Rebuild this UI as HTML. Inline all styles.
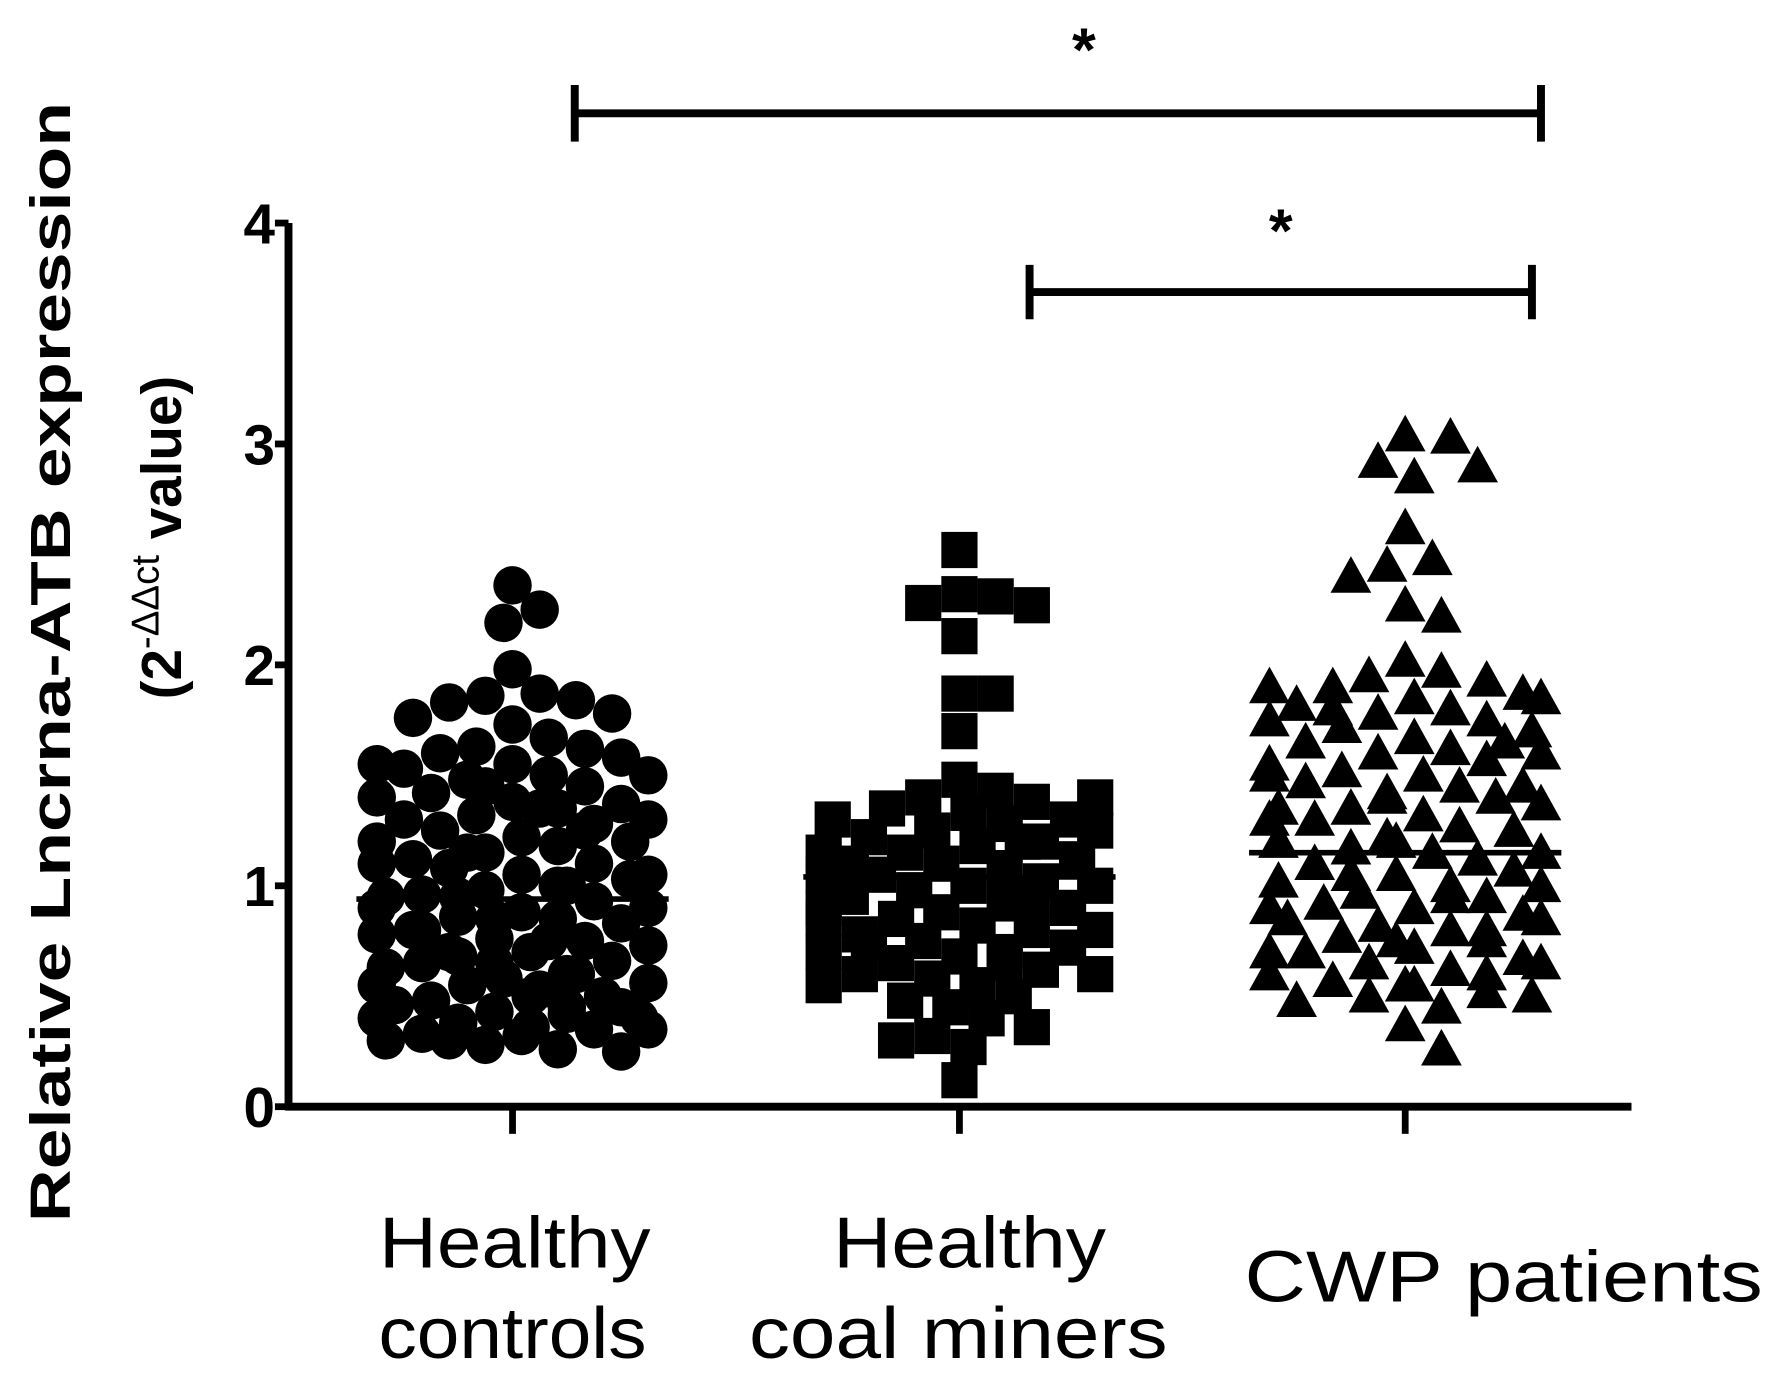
<!DOCTYPE html>
<html><head><meta charset="utf-8"><style>html,body{margin:0;padding:0;background:#fff}svg{display:block}</style></head>
<body>
<svg id="chart" width="1765" height="1375" viewBox="0 0 1560 1215" xmlns="http://www.w3.org/2000/svg" font-family="Liberation Sans, Arial, sans-serif">
<g id="axes"></g>
<g id="marks"></g>
</svg>
<script>
const categories = ["Healthy controls","Healthy coal miners","CWP patients"];
const yTicks = [0,1,2,3,4];
const means = [0.94,1.04,1.15];
const controls = [2.36,2.25,2.19,1.98,1.87,1.86,1.84,1.83,1.78,1.76,1.73,1.67,1.63,1.62,1.6,1.58,1.55,1.53,1.5,1.5,1.48,1.45,1.42,1.4,1.38,1.37,1.35,1.32,1.3,1.28,1.25,1.22,1.2,1.18,1.15,1.12,1.1,1.1,1.08,1.05,1.03,1.0,0.98,0.96,0.95,0.93,0.9,0.88,0.86,0.85,0.83,0.8,0.78,0.76,0.75,0.73,0.7,0.68,0.66,0.65,0.63,0.6,0.58,0.56,0.55,0.53,0.5,0.48,0.46,0.45,0.43,0.4,0.38,0.36,0.35,0.33,0.3,0.28,0.26,0.25,1.45,1.3,1.2,1.05,0.95,0.85,0.75,0.65,0.55,0.45,0.4,0.35,1.55,1.0,0.7,0.5,0.32,1.35,1.15,0.9,0.6,0.42,0.3,0.8,1.25];
const miners = [2.52,2.32,2.31,2.28,2.27,2.13,1.87,1.87,1.7,1.48,1.43,1.4,1.38,1.35,1.33,1.3,1.28,1.25,1.22,1.2,1.18,1.15,1.12,1.1,1.08,1.05,1.02,1.0,0.98,0.95,0.92,0.9,0.88,0.85,0.82,0.8,0.78,0.75,0.72,0.7,0.68,0.65,0.62,0.6,0.58,0.55,0.5,0.48,0.45,0.4,0.36,0.32,0.3,0.27,0.12,1.3,1.15,1.0,0.9,0.8,0.7,0.6,1.25,1.1,0.95,0.85,0.75,0.65,0.55,1.4,1.2,1.05];
const cwp = [3.04,3.03,2.92,2.9,2.85,2.62,2.48,2.45,2.4,2.27,2.22,2.02,1.97,1.95,1.93,1.9,1.87,1.85,1.82,1.8,1.78,1.75,1.72,1.7,1.67,1.65,1.62,1.6,1.57,1.55,1.52,1.5,1.47,1.45,1.42,1.4,1.37,1.35,1.32,1.3,1.27,1.25,1.22,1.2,1.17,1.15,1.12,1.1,1.07,1.05,1.02,1.0,0.97,0.95,0.92,0.9,0.87,0.85,0.82,0.8,0.77,0.75,0.72,0.7,0.67,0.65,0.62,0.6,0.57,0.55,0.52,0.5,0.48,0.45,0.37,0.26,1.9,1.6,1.3,1.0,0.7,0.5,1.75,1.45,1.15,0.85,0.6,1.85,1.5,1.2,0.9,0.65,1.65,1.35,1.05,0.75,0.55,1.8,1.4,0.95,0.8];
const series = [controls, miners, cwp];

const NS="http://www.w3.org/2000/svg";
const axes=document.getElementById('axes'), marks=document.getElementById('marks');
const X0=255, X1=1442, Y0=978, Y4=197;
const yScale=v=>Y0-(v/4)*(Y0-Y4);
const xCenters=[453,848,1242];
const xScale=i=>xCenters[i];
function mk(tag,attrs,parent){const e=document.createElementNS(NS,tag);for(const k in attrs)e.setAttribute(k,attrs[k]);parent.appendChild(e);return e;}

let e;
e=mk('line',{x1:X0,y1:Y4,x2:X0,y2:Y0+3,stroke:'#000','stroke-width':7},axes);


e=mk('line',{x1:X0-3,y1:Y0,x2:X1,y2:Y0,stroke:'#000','stroke-width':7},axes);


yTicks.forEach(t=>{
  const y=yScale(t);
  e=mk('line',{x1:X0-12,y1:y,x2:X0,y2:y,stroke:'#000','stroke-width':6},axes);
  
  
  e=mk('text',{x:X0-12,y:y+18,'text-anchor':'end','font-size':50,'font-weight':'bold'},axes);
  e.textContent=t;
  
  
});
categories.forEach((c,i)=>{
  e=mk('line',{x1:xScale(i),y1:Y0,x2:xScale(i),y2:Y0+24,stroke:'#000','stroke-width':6},axes);
  
  
});
const labels=[[["Healthy",455,1120,240],["controls",453,1200,237]],[["Healthy",857,1120,241],["coal miners",847,1200,370]],[["CWP patients",1329,1150,458]]];
labels.forEach(ls=>ls.forEach(l=>{
  e=mk('text',{x:l[1],y:l[2],'text-anchor':'middle','font-size':64,textLength:l[3],lengthAdjust:'spacingAndGlyphs'},axes);
  e.textContent=l[0];
  
  
}));
e=mk('text',{x:0,y:0,'text-anchor':'middle','font-size':50,'font-weight':'bold',transform:'translate(62,585) rotate(-90)',textLength:990,lengthAdjust:'spacingAndGlyphs'},axes);
e.textContent='Relative Lncrna-ATB expression';


e=mk('text',{x:0,y:0,'text-anchor':'middle','font-size':50,'font-weight':'bold',transform:'translate(160,475) rotate(-90)'},axes);


e.innerHTML='(2<tspan dy="-20" font-size="34" font-weight="normal">-ΔΔct</tspan><tspan dy="20"> value)</tspan>';

function sig(xa,xb,y,cap,sx,sy){
  e=mk('g',{},axes);
  
  
  mk('line',{x1:xa,y1:y,x2:xb,y2:y,stroke:'#000','stroke-width':7},e);
  mk('line',{x1:xa,y1:y-cap,x2:xa,y2:y+cap,stroke:'#000','stroke-width':7},e);
  mk('line',{x1:xb,y1:y-cap,x2:xb,y2:y+cap,stroke:'#000','stroke-width':7},e);
  const s=mk('text',{x:sx,y:sy,'text-anchor':'middle','font-size':54,'font-weight':'bold'},e);
  s.textContent='*';
}
sig(508,1362,100,25,958,62);
sig(910,1354,258,24,1132,222);

const R=[17,16,18];
series.forEach((vals,gi)=>{
  const cx=xScale(gi), placed=[], step=8, maxOff=125, minD=R[gi]*1.85;
  const order=vals.map((v,i)=>i);
  order.forEach(i=>{
    const y=yScale(vals[i]);
    let best=null,bestO=1e9;
    for(let k=0;k*step<=maxOff;k++){
      for(const s of (k?[1,-1]:[1])){
        const x=cx+s*k*step;
        let ov=0;
        for(const p of placed){const d=Math.hypot(p[0]-x,p[1]-y);if(d<minD)ov+=minD-d;}
        if(ov===0){best=x;bestO=0;break;}
        if(ov<bestO){bestO=ov;best=x;}
      }
      if(bestO===0)break;
    }
    placed.push([best,y]);
    const r=R[gi];
    if(gi===0) e=mk('circle',{cx:best,cy:y,r:r,fill:'#000'},marks);
    else if(gi===1) e=mk('rect',{x:best-r,y:y-r,width:2*r,height:2*r,fill:'#000'},marks);
    else e=mk('polygon',{points:`${best},${y-r} ${best-r},${y+r*0.8} ${best+r},${y+r*0.8}`,fill:'#000'},marks);
    
    
  });
  const m=yScale(means[gi]);
  e=mk('line',{x1:cx-138,y1:m,x2:cx+138,y2:m,stroke:'#000','stroke-width':5},marks);
  
  
});
</script>
</body></html>
